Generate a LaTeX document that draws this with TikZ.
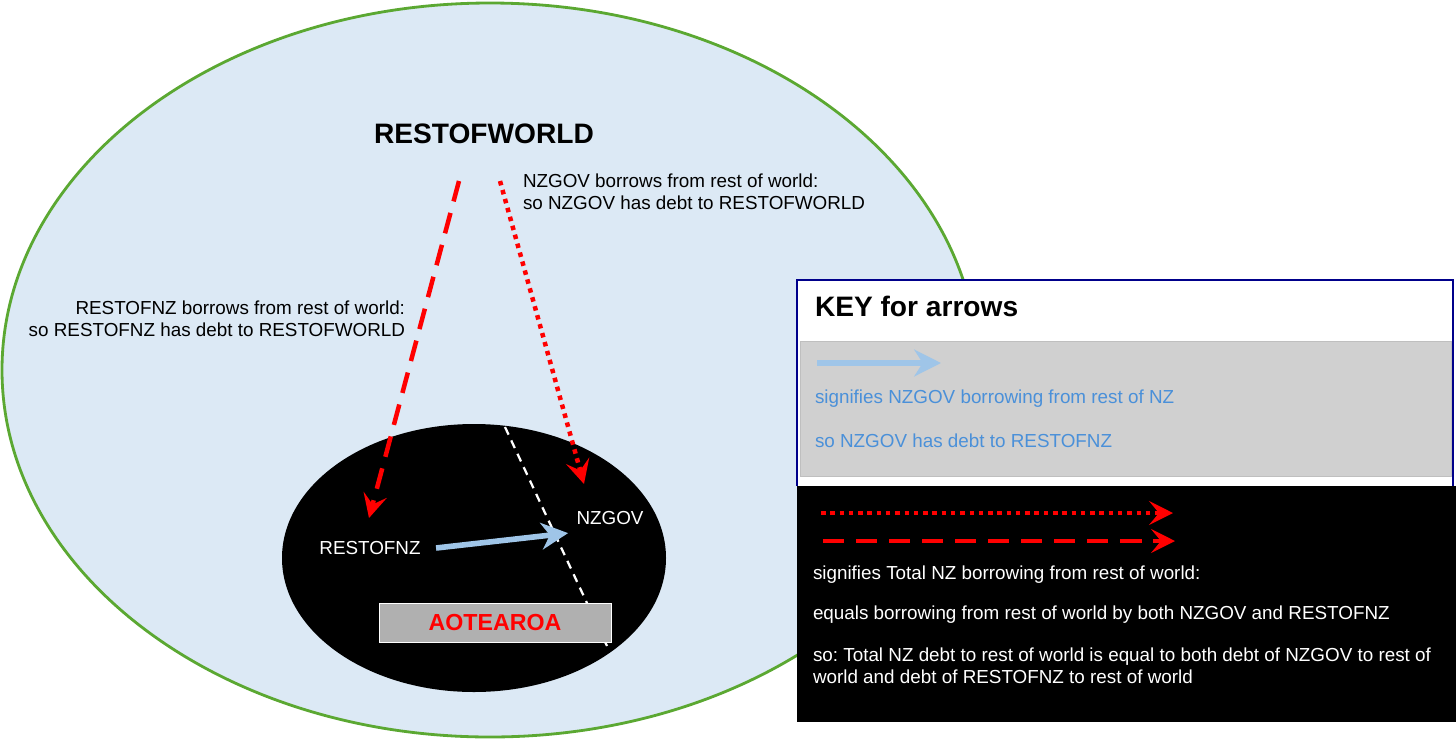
\documentclass[tikz,border=0pt]{standalone}
\usepackage{fontspec}
\setmainfont{Liberation Sans}
\usetikzlibrary{arrows.meta,positioning}
\frenchspacing

\definecolor{worldfill}{HTML}{DCE9F5}
\definecolor{worldline}{HTML}{5BA832}
\definecolor{loanblue}{HTML}{9FC5E8}
\definecolor{keyblue}{HTML}{4A90D9}
\definecolor{keynavy}{HTML}{00008B}
\definecolor{keygray}{HTML}{D0D0D0}
\definecolor{nzgray}{HTML}{B0B0B0}

\newcommand{\txtsize}{\fontsize{13.4}{15.6}\selectfont}

\begin{document}
\begin{tikzpicture}[x=0.025cm, y=-0.025cm,
		every node/.style={inner sep=0pt, outer sep=0pt},
		worldloan/.style={red, line width=3.2pt, -{Stealth[length=17pt, width=17pt, inset=7pt]}},
		loandash/.style={dash pattern=on 15pt off 8.5pt},
		loandot/.style={dash pattern=on 3.2pt off 3.4pt},
		govloan/.style={loanblue, line width=4pt, -{Stealth[length=19pt, width=19pt, inset=6pt]}},
		keytext/.style={anchor=west, font=\txtsize}]
	\useasboundingbox (0,0) rectangle (1456,739);

	% the world and Aotearoa
	\filldraw [fill=worldfill, draw=worldline, line width=2pt] (490,370) ellipse [x radius=488, y radius=367];
	\fill [black] (474,558) ellipse [x radius=192, y radius=134];
	\draw [white, line width=1.6pt, dash pattern=on 6pt off 4.5pt] (505,427) -- (607,646);
	\node [draw=white, line width=0.6pt, fill=nzgray, minimum width=5.8cm, minimum height=0.975cm,
		text=red, font=\fontsize{16.5}{18}\selectfont\bfseries] (aotearoa) at (495,623) {AOTEAROA};

	\node [font=\fontsize{20}{22}\selectfont\bfseries] (world) at (484,134) {RESTOFWORLD};
	\node [white, font=\txtsize] (restnz) at (370,548) {RESTOFNZ};
	\node [white, font=\txtsize] (nzgov) at (610,518) {NZGOV};

	\node [anchor=north west, align=left, font=\txtsize] (govnote) at (523,174)
		{NZGOV borrows from rest of world:\\ so NZGOV has debt to RESTOFWORLD};
	\node [anchor=north east, align=right, font=\txtsize] (restnote) at (405,301)
		{RESTOFNZ borrows from rest of world:\\ so RESTOFNZ has debt to RESTOFWORLD};

	\coordinate (w_a) at (459,181);
	\coordinate (w_b) at (500,181);
	\coordinate (nz_a) at (369,518);
	\coordinate (nz_b) at (584,484);
	\draw [worldloan, loandash] (w_a) -- (nz_a);
	\draw [worldloan, loandot] (w_b) -- (nz_b);
	\draw [govloan] ([xshift=11]restnz.east) -- ([xshift=-6,yshift=-6]nzgov.south west);

	% key for arrows
	\fill [white] (797,280) rectangle (1453,486);
	\fill [keygray] (800,341) rectangle (1451,476);
	\draw [gray!50, line width=0.5pt] (800,341) rectangle (1451,476);
	\draw [keynavy, line width=1.5pt] (797,486) -- (797,280) -- (1453,280) -- (1453,486);
	\fill [black] (797,486) rectangle (1456,722);

	\node [anchor=west, font=\fontsize{20}{22}\selectfont\bfseries] (keytitle) at (815,306) {KEY for arrows};

	\coordinate (k_a) at (817,363);
	\coordinate (k_b) at (941,363);
	\draw [govloan] (k_a) -- (k_b);
	\node [keytext, text=keyblue] (keyblue_a) at (815,399) {signifies NZGOV borrowing from rest of NZ};
	\node [keytext, text=keyblue] (keyblue_b) at (815,441) {so NZGOV has debt to RESTOFNZ};

	\coordinate (k_c) at (821,513);
	\coordinate (k_d) at (1173,513);
	\coordinate (k_e) at (823,541);
	\coordinate (k_f) at (1175,541);
	\draw [worldloan, loandot] (k_c) -- (k_d);
	\draw [worldloan, loandash] (k_e) -- (k_f);

	\node [keytext, white] (keyred_a) at (813,575) {signifies Total NZ borrowing from rest of world:};
	\node [keytext, white] (keyred_b) at (813,615) {equals borrowing from rest of world by both NZGOV and RESTOFNZ};
	\node [anchor=north west, align=left, white, font=\txtsize] (keyred_c) at (813,648)
		{so: Total NZ debt to rest of world is equal to both debt of NZGOV to rest of\\ world and debt of RESTOFNZ to rest of world};
\end{tikzpicture}
\end{document}
